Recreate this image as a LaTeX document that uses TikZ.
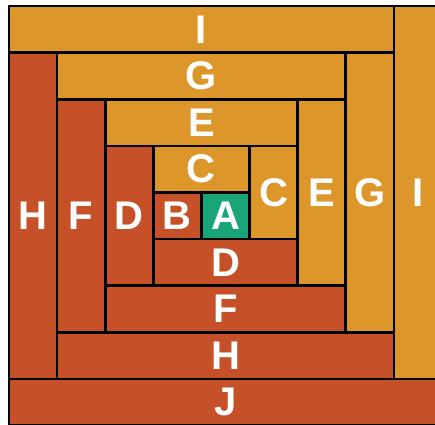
\documentclass[tikz,border=0pt]{standalone}
\usepackage{fontspec}
\setmainfont{Liberation Sans}
\usepackage{xcolor}
\usepackage{tikz}
\definecolor{logorange}{HTML}{DD9629}
\definecolor{logred}{HTML}{C65027}
\definecolor{loggreen}{HTML}{1AA47A}
\tikzstyle{light} = [draw=black, line width=2.6pt, fill=logorange]
\tikzstyle{dark} = [draw=black, line width=2.6pt, fill=logred]
\tikzstyle{centre} = [draw=black, line width=2.6pt, fill=loggreen]
\tikzstyle{letter} = [text=white, font=\fontsize{40}{40}\selectfont\bfseries, inner sep=0pt]

\begin{document}
\begin{tikzpicture}[x=48.1pt, y=-46.6pt]
    % frame of the picture
    \useasboundingbox (-9pt,6pt) rectangle (426pt,-418pt);
    \clip (-9pt,6pt) rectangle (426pt,-418pt);

    % outer round: I and J
    \draw[light] (0,0) rectangle (8,1);
    \draw[light] (8,0) rectangle (9,8);
    \draw[dark] (0,8) rectangle (9,9);
    % H, G
    \draw[dark] (0,1) rectangle (1,8);
    \draw[dark] (1,7) rectangle (8,8);
    \draw[light] (1,1) rectangle (7,2);
    \draw[light] (7,1) rectangle (8,7);
    % F, E
    \draw[dark] (1,2) rectangle (2,7);
    \draw[dark] (2,6) rectangle (7,7);
    \draw[light] (2,2) rectangle (6,3);
    \draw[light] (6,2) rectangle (7,6);
    % D, C
    \draw[dark] (2,3) rectangle (3,6);
    \draw[dark] (3,5) rectangle (6,6);
    \draw[light] (3,3) rectangle (5,4);
    \draw[light] (5,3) rectangle (6,5);
    % B and the centre A
    \draw[dark] (3,4) rectangle (4,5);
    \draw[centre] (4,4) rectangle (5,5);

    % Letters
    \node[letter] (itop) at (4,0.5) {I};
    \node[letter] (iright) at (8.5,4) {I};
    \node[letter] (jbottom) at (4.5,8.5) {J};
    \node[letter] (hleft) at (0.5,4.5) {H};
    \node[letter] (hbottom) at (4.5,7.5) {H};
    \node[letter] (gtop) at (4,1.5) {G};
    \node[letter] (gright) at (7.5,4) {G};
    \node[letter] (fleft) at (1.5,4.5) {F};
    \node[letter] (fbottom) at (4.5,6.5) {F};
    \node[letter] (etop) at (4,2.5) {E};
    \node[letter] (eright) at (6.5,4) {E};
    \node[letter] (dleft) at (2.5,4.5) {D};
    \node[letter] (dbottom) at (4.5,5.5) {D};
    \node[letter] (ctop) at (4,3.5) {C};
    \node[letter] (cright) at (5.5,4) {C};
    \node[letter] (bcell) at (3.5,4.5) {B};
    \node[letter] (acell) at (4.5,4.5) {A};
\end{tikzpicture}
\end{document}
